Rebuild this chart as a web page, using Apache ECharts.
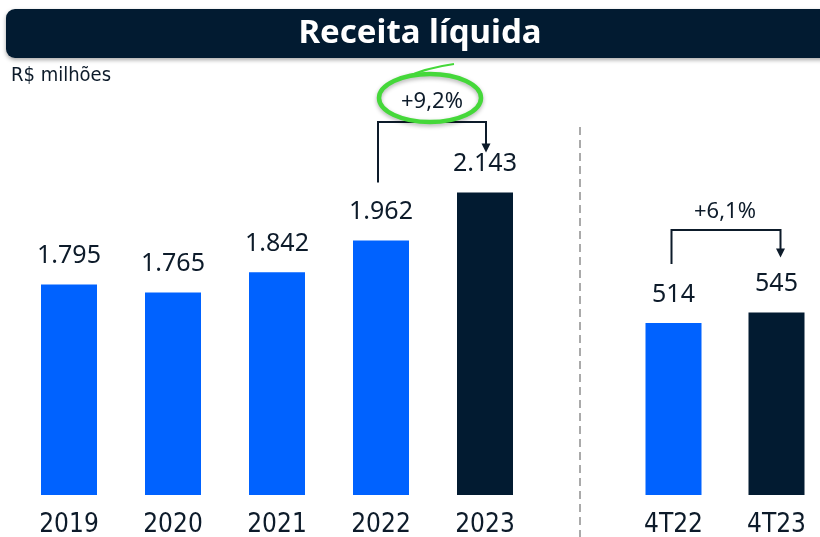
<!DOCTYPE html>
<html><head><meta charset="utf-8">
<script src="https://cdn.jsdelivr.net/npm/echarts@6/dist/echarts.min.js"></script>
<style>html,body{margin:0;padding:0;background:#fff}#c{width:820px;height:537px}</style>
</head><body><div id="c"></div>
<script>
const years = ['2019', '2020', '2021', '2022', '2023'];
const annualValues = [1795, 1765, 1842, 1962, 2143];
const quarters = ['4T22', '4T23'];
const quarterValues = [514, 545];
const annualGrowth = '+9,2%';
const quarterGrowth = '+6,1%';
const titleText = 'Receita líquida';
const unitText = 'R$ milhões';

const BLUE = '#0062ff', DARK = '#021b31', TEXT = '#0d1b2a';
const NARROW = '"Noto Sans Condensed", "DejaVu Sans Condensed", "Noto Sans", sans-serif';
const fmt = v => String(v).replace(/\B(?=(\d{3})+(?!\d))/g, '.');
const colored = arr => arr.map((v, i) => ({ value: v, itemStyle: { color: i === arr.length - 1 ? DARK : BLUE } }));

const labelStyle = { show: true, position: 'top', distance: 16, color: TEXT, fontSize: 25, fontFamily: 'Noto Sans', formatter: p => fmt(p.value) };
const xLabel = { color: TEXT, fontSize: 26, fontWeight: 500, fontFamily: NARROW, margin: 17 };

const chart = echarts.init(document.getElementById('c'), null, { renderer: 'canvas' });
const option = {
  animation: false,
  grid: [
    { left: 17, width: 520, top: 98, bottom: 42, outerBoundsMode: 'none', containLabel: false },
    { left: 622, width: 206, top: 98, bottom: 42, outerBoundsMode: 'none', containLabel: false }
  ],
  xAxis: [
    { type: 'category', gridIndex: 0, data: years, axisLine: { show: false }, axisTick: { show: false }, axisLabel: xLabel },
    { type: 'category', gridIndex: 1, data: quarters, axisLine: { show: false }, axisTick: { show: false }, axisLabel: xLabel }
  ],
  yAxis: [
    { type: 'value', gridIndex: 0, min: 1000, max: 2500, show: false },
    { type: 'value', gridIndex: 1, min: 0, max: 1186, show: false }
  ],
  series: [
    { type: 'bar', xAxisIndex: 0, yAxisIndex: 0, barWidth: 56, data: colored(annualValues), label: labelStyle },
    { type: 'bar', xAxisIndex: 1, yAxisIndex: 1, barWidth: 56, data: colored(quarterValues), label: labelStyle }
  ]
};
chart.setOption(option);

const pA = i => chart.convertToPixel({ xAxisIndex: 0, yAxisIndex: 0 }, [years[i], annualValues[i]]);
const pQ = i => chart.convertToPixel({ xAxisIndex: 1, yAxisIndex: 1 }, [quarters[i], quarterValues[i]]);

function bracket(x1, yBottom, x2, yTip, yTop) {
  return [
    { type: 'polyline', shape: { points: [[x1, yBottom], [x1, yTop], [x2, yTop], [x2, yTip - 7]] }, style: { stroke: TEXT, lineWidth: 2, fill: null } },
    { type: 'polygon', shape: { points: [[x2 - 4.5, yTip - 9], [x2 + 4.5, yTip - 9], [x2, yTip]] }, style: { fill: TEXT } }
  ];
}

const a3 = pA(3), a4 = pA(4), q0 = pQ(0), q1 = pQ(1);
const GREEN = '#45d83a';
const g = [
  { type: 'rect', shape: { x: 6, y: 9, width: 830, height: 49, r: 9 }, style: { fill: '#021b31', shadowBlur: 4, shadowOffsetY: 2, shadowColor: 'rgba(0,0,0,0.35)' } },
  { type: 'text', x: 420, y: 34, style: { text: titleText, fill: '#fff', font: 'bold 33px "Noto Sans"', align: 'center', verticalAlign: 'middle' } },
  { type: 'text', x: 11, y: 76, style: { text: unitText, fill: TEXT, font: '20px ' + NARROW, align: 'left', verticalAlign: 'middle' } },
  { type: 'line', shape: { x1: 580, y1: 127, x2: 580, y2: 537 }, style: { stroke: '#aaaaaa', lineWidth: 2, lineDash: [8, 5] } },
  ...bracket(a3[0] - 3, a3[1] - 58, a4[0] + 1, a4[1] - 40, 122),
  ...bracket(q0[0] - 2, q0[1] - 59, q1[0] + 4, q1[1] - 55, 230),
  { type: 'ellipse', shape: { cx: 430, cy: 98, rx: 51, ry: 24 }, style: { fill: null, stroke: GREEN, lineWidth: 4.5, shadowBlur: 4, shadowOffsetY: 2, shadowColor: 'rgba(0,0,0,0.3)' } },
  { type: 'bezierCurve', shape: { x1: 404, y1: 78, cpx1: 425, cpy1: 68, x2: 454, y2: 64 }, style: { stroke: GREEN, lineWidth: 2, fill: null } },
  { type: 'text', x: 432, y: 102, style: { text: annualGrowth, fill: TEXT, font: '22px "Noto Sans"', align: 'center', verticalAlign: 'middle' } },
  { type: 'text', x: 725, y: 212, style: { text: quarterGrowth, fill: TEXT, font: '22px "Noto Sans"', align: 'center', verticalAlign: 'middle' } }
];
chart.setOption({ graphic: g });
</script></body></html>
